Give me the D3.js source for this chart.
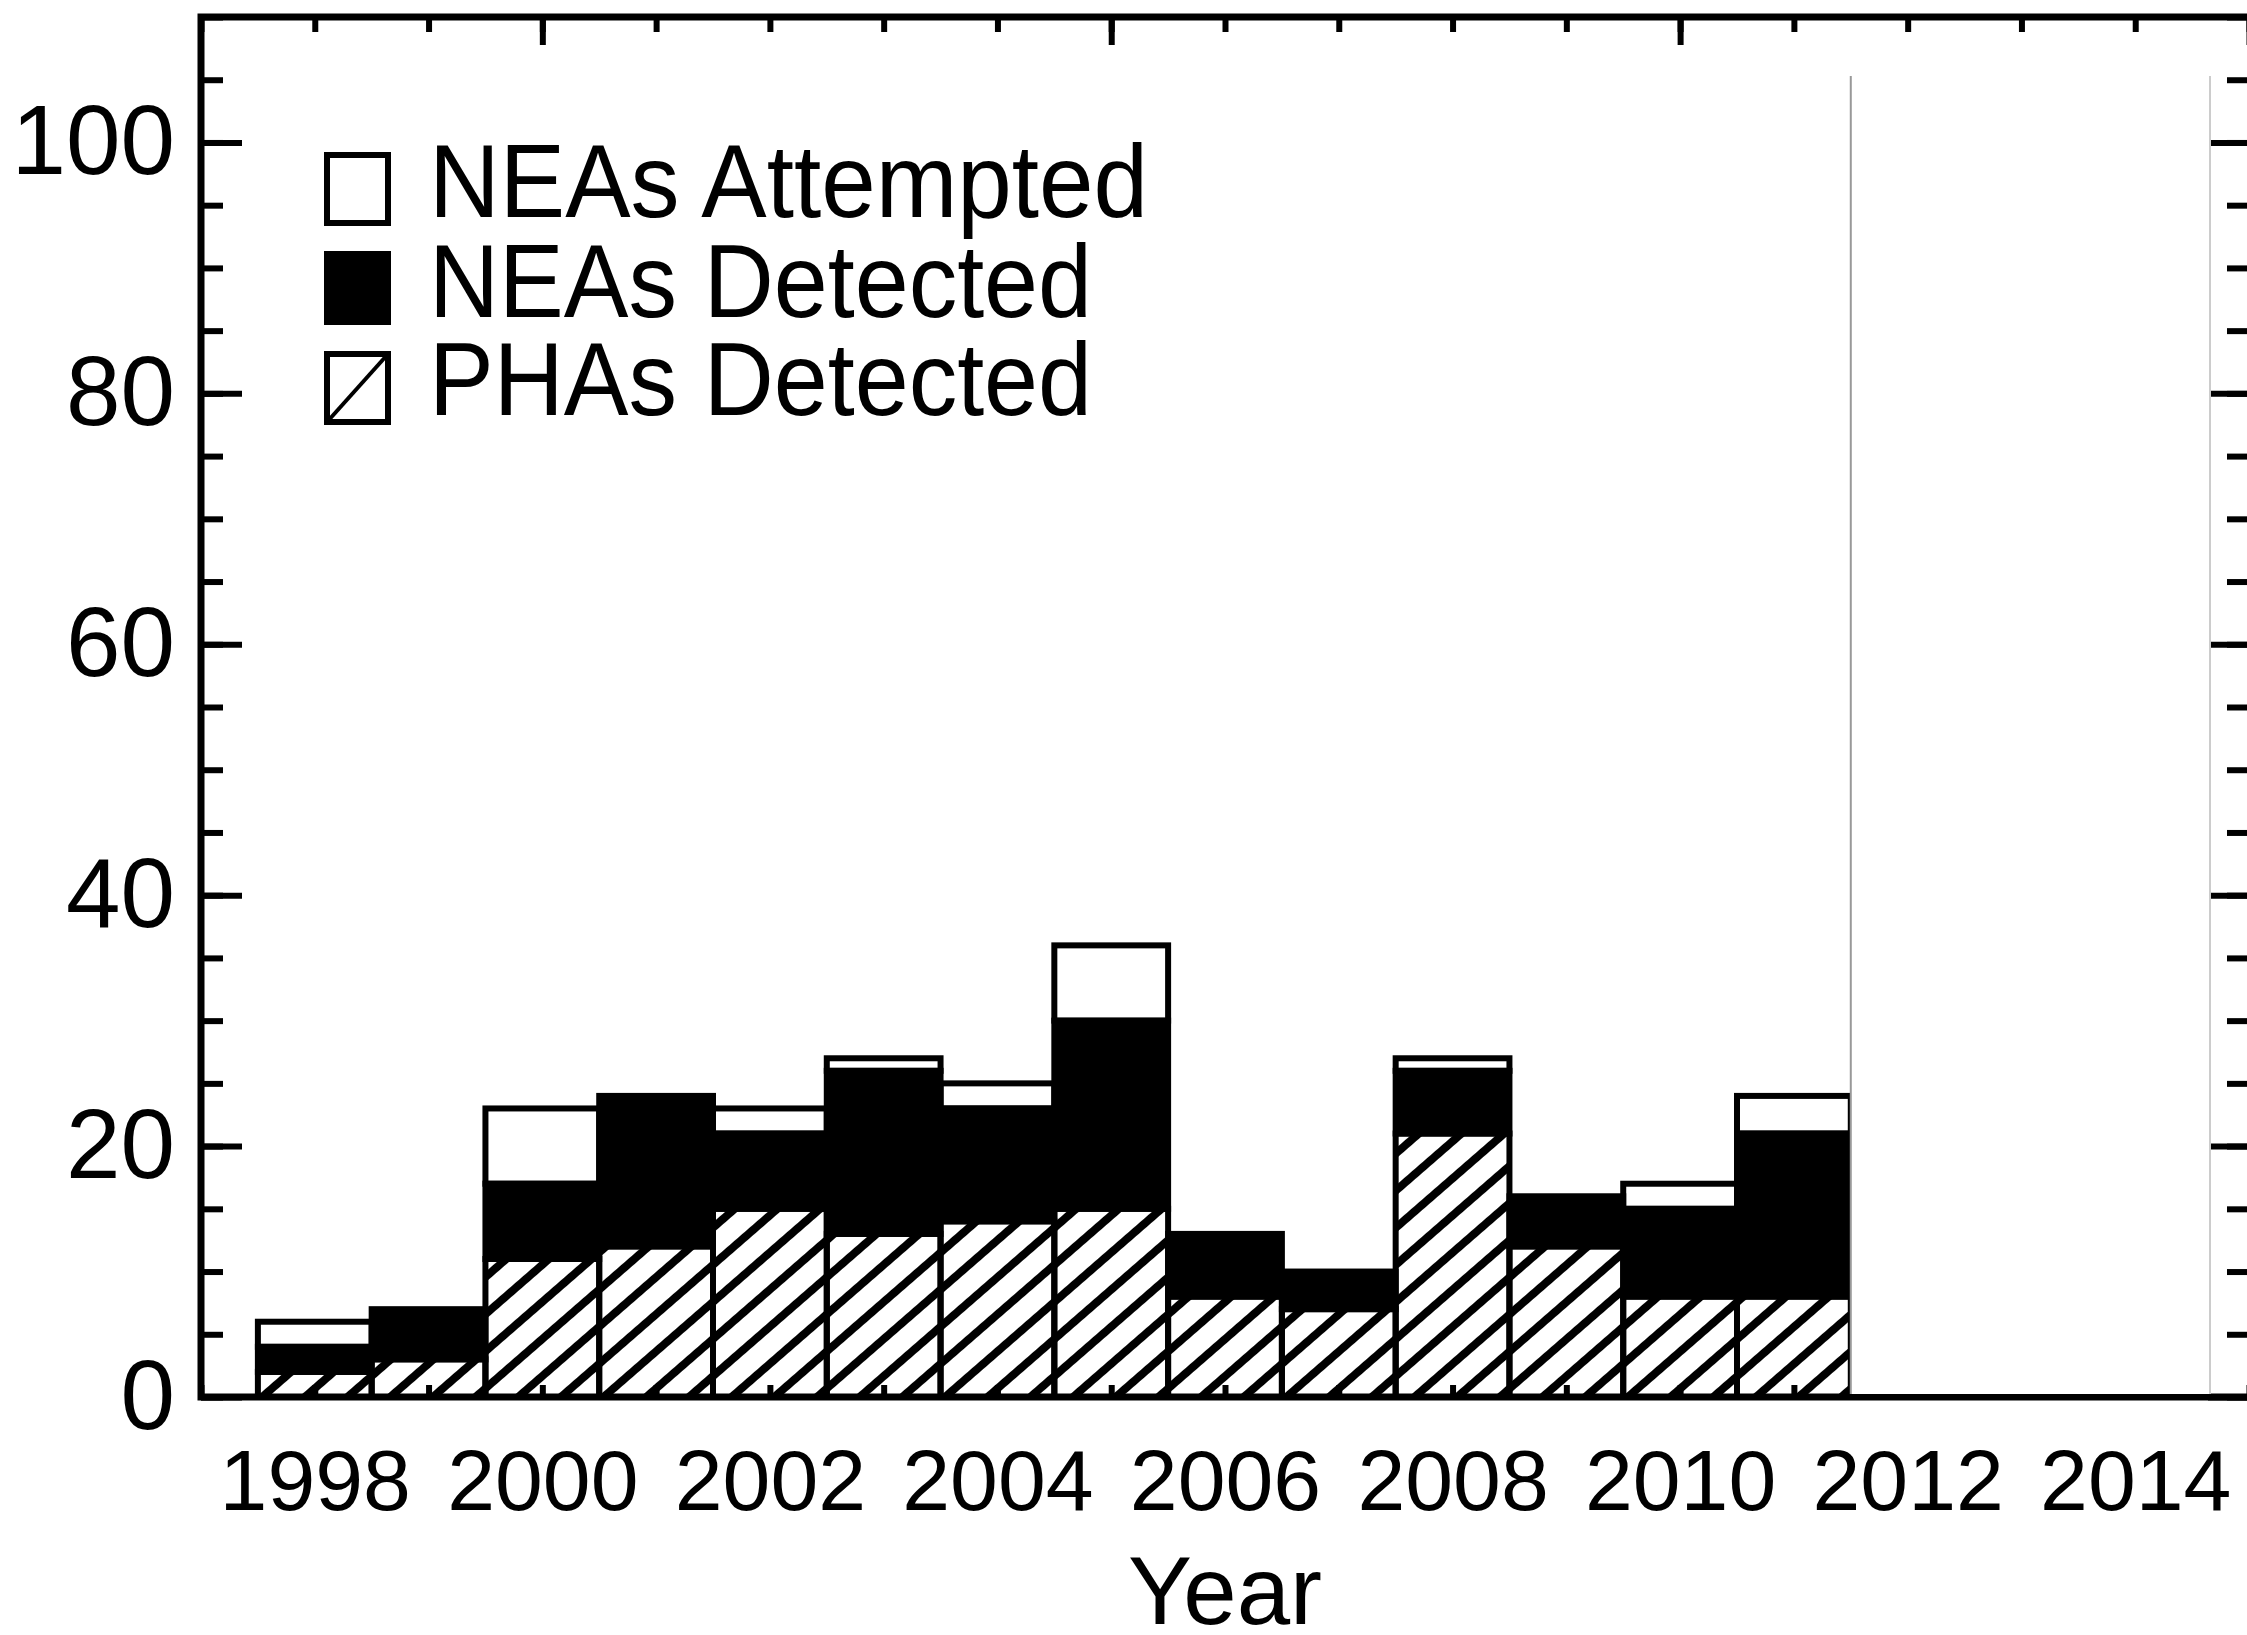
<!DOCTYPE html>
<html>
<head>
<meta charset="utf-8">
<script src="https://cdn.jsdelivr.net/npm/d3@7"></script>
<style>
  html, body { margin: 0; padding: 0; background: #fff; }
  svg text { font-family: "Liberation Sans", Arial, Helvetica, sans-serif; fill: #000; }
</style>
</head>
<body>
<svg id="chart" width="2247" height="1635"></svg>
<script>
// NEA / PHA counts per year
const years     = [1998, 1999, 2000, 2001, 2002, 2003, 2004, 2005, 2006, 2007, 2008, 2009, 2010, 2011];
const attempted = [6, 7, 23, 24, 23, 27, 25, 36, 13, 10, 27, 16, 17, 24];
const detected  = [4, 7, 17, 24, 21, 26, 23, 30, 13, 10, 26, 16, 15, 21];
const phas      = [2, 3, 11, 12, 15, 13, 14, 15, 8, 7, 21, 12, 8, 8];

const xLabelYears = [1998, 2000, 2002, 2004, 2006, 2008, 2010, 2012, 2014];
const yMajor = [0, 20, 40, 60, 80, 100];
const yMinor = d3.range(0, 111, 5);
const xMajor = [2000, 2005, 2010, 2015];
const xMinor = d3.range(1997, 2016, 1);
const legendItems = ['NEAs Attempted', 'NEAs Detected', 'PHAs Detected'];

const W = 2247, H = 1635;
const svg = d3.select('#chart');
const x = d3.scaleLinear().domain([1997, 2015]).range([201, 2249]);
const y = d3.scaleLinear().domain([0, 110]).range([1397, 17]);
const LW = 7;

svg.append('rect').attr('width', W).attr('height', H).attr('fill', '#fff');

// hatch for PHAs, transparent between lines
const defs = svg.append('defs');
defs.append('pattern')
  .attr('id', 'hatch')
  .attr('patternUnits', 'userSpaceOnUse')
  .attr('width', 20).attr('height', 28)
  .attr('patternTransform', 'translate(0,1397) rotate(-41)')
  .append('rect')
  .attr('x', 0).attr('y', 0).attr('width', 20).attr('height', 8)
  .attr('fill', '#000');

function styleTicks(g) {
  g.select('.domain').remove();
  g.selectAll('.tick line').attr('stroke', '#000').attr('stroke-width', 6);
}

// ticks (drawn under bars, as in the original)
const axes = svg.append('g');
axes.append('g').attr('transform', `translate(0,${y(0)})`)
  .call(d3.axisBottom(x).tickValues(xMinor).tickSizeInner(-12).tickSizeOuter(0).tickFormat(''))
  .call(styleTicks);
axes.append('g').attr('transform', `translate(0,${y(110)})`)
  .call(d3.axisTop(x).tickValues(xMinor).tickSizeInner(-15).tickSizeOuter(0).tickFormat(''))
  .call(styleTicks);
axes.append('g').attr('transform', `translate(0,${y(110)})`)
  .call(d3.axisTop(x).tickValues(xMajor).tickSizeInner(-28).tickSizeOuter(0).tickFormat(''))
  .call(styleTicks);
axes.append('g').attr('transform', `translate(${x(1997)},0)`)
  .call(d3.axisLeft(y).tickValues(yMinor).tickSizeInner(-22).tickSizeOuter(0).tickFormat(''))
  .call(styleTicks);
axes.append('g').attr('transform', `translate(${x(1997)},0)`)
  .call(d3.axisLeft(y).tickValues(yMajor).tickSizeInner(-41).tickSizeOuter(0).tickPadding(26))
  .call(styleTicks)
  .call(g => g.selectAll('text').attr('font-size', 98).attr('font-family', null).attr('fill', '#000'));
axes.append('g').attr('transform', `translate(${x(2015)},0)`)
  .call(d3.axisRight(y).tickValues(yMinor).tickSizeInner(-22).tickSizeOuter(0).tickFormat(''))
  .call(styleTicks);
axes.append('g').attr('transform', `translate(${x(2015)},0)`)
  .call(d3.axisRight(y).tickValues(yMajor).tickSizeInner(-41).tickSizeOuter(0).tickFormat(''))
  .call(styleTicks);
axes.append('g').attr('transform', `translate(0,${y(0)})`)
  .call(d3.axisBottom(x).tickValues(xLabelYears).tickSize(0).tickPadding(52).tickFormat(d3.format('d')))
  .call(g => g.select('.domain').remove())
  .call(g => g.selectAll('text').attr('font-size', 86).attr('font-family', null).attr('fill', '#000'));

// stacked histogram bars
const bars = svg.append('g').attr('stroke', '#000').attr('stroke-width', 6);
const rows = years.map((yr, i) => ({ yr, att: attempted[i], det: detected[i], pha: phas[i] }));
const bx = d => x(d.yr - 0.5), bw = d => x(d.yr + 0.5) - x(d.yr - 0.5);

bars.selectAll('.pha').data(rows).join('rect').attr('class', 'pha')
  .attr('x', bx).attr('width', bw)
  .attr('y', d => y(d.pha)).attr('height', d => y(0) - y(d.pha))
  .attr('fill', 'url(#hatch)');
bars.selectAll('.det').data(rows.filter(d => d.det > d.pha)).join('rect').attr('class', 'det')
  .attr('x', bx).attr('width', bw)
  .attr('y', d => y(d.det)).attr('height', d => y(d.pha) - y(d.det))
  .attr('fill', '#000');
bars.selectAll('.att').data(rows.filter(d => d.att > d.det)).join('rect').attr('class', 'att')
  .attr('x', bx).attr('width', bw)
  .attr('y', d => y(d.att)).attr('height', d => y(d.det) - y(d.att))
  .attr('fill', 'none');

// plot frame: right edge sits just outside the picture
const frame = svg.append('path')
  .attr('d', `M${W + 10},${y(110)} H${x(1997)} V${y(0)} H${W + 10}`)
  .attr('fill', 'none').attr('stroke', '#000').attr('stroke-width', LW);

// blank panel pasted over the last years
const cover = svg.append('g');
cover.append('rect')
  .attr('x', x(2011.5)).attr('y', y(105.3))
  .attr('width', 2210 - x(2011.5)).attr('height', y(0) - 3 - y(105.3))
  .attr('fill', '#fff');
cover.append('line')
  .attr('x1', x(2011.5)).attr('x2', x(2011.5))
  .attr('y1', y(105.3)).attr('y2', y(0) - 3)
  .attr('stroke', '#999').attr('stroke-width', 2);
cover.append('line')
  .attr('x1', 2210).attr('x2', 2210)
  .attr('y1', y(105.3)).attr('y2', y(0) - 3)
  .attr('stroke', '#ccc').attr('stroke-width', 2);

// axis title
svg.append('text')
  .attr('x', (x(1997) + x(2015)) / 2).attr('y', 1624)
  .attr('text-anchor', 'middle').attr('font-size', 96)
  .text('Year');

// legend
const leg = svg.append('g');
const legY = [155, 254, 354];
const legBase = [217, 317, 415];
const legLen = [719, 663, 663];
leg.selectAll('rect').data(legendItems).join('rect')
  .attr('x', 327).attr('y', (d, i) => legY[i])
  .attr('width', 61).attr('height', 68)
  .attr('fill', (d, i) => i === 1 ? '#000' : '#fff')
  .attr('stroke', '#000').attr('stroke-width', 6);
leg.append('line')
  .attr('x1', 327).attr('y1', legY[2] + 68)
  .attr('x2', 388).attr('y2', legY[2])
  .attr('stroke', '#000').attr('stroke-width', 4);
leg.selectAll('text').data(legendItems).join('text')
  .attr('x', 429).attr('y', (d, i) => legBase[i])
  .attr('font-size', 104)
  .attr('textLength', (d, i) => legLen[i]).attr('lengthAdjust', 'spacingAndGlyphs')
  .text(d => d);
</script>
</body>
</html>
